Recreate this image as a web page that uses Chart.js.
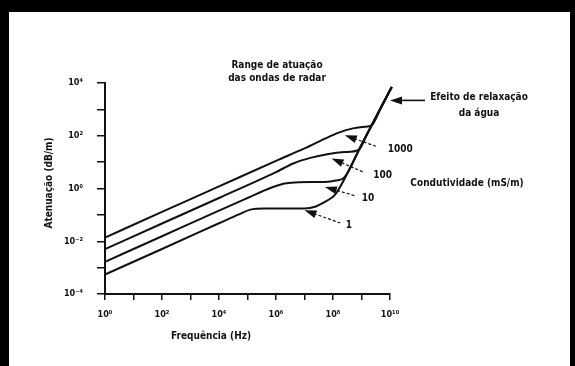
<!DOCTYPE html>
<html>
<head>
<meta charset="utf-8">
<script src="https://cdn.jsdelivr.net/npm/chart.js@4.4.1/dist/chart.umd.min.js"></script>
<style>
  html, body { margin: 0; padding: 0; background: #000; }
  #wrap { position: absolute; left: 9px; top: 12px; width: 561px; height: 354px; background: #fff; }
  canvas { display: block; }
</style>
</head>
<body>
<div id="wrap"><canvas id="chart" width="561" height="354"></canvas></div>
<script>
// Values (Hz, dB/m)
const freq1 = [1, 1e2, 1e4, 5e4, 1.26e5, 4e5, 1e7, 2.5e7, 5e7, 9e7, 1.26e8, 1e9, 1.15e10];
const atten1 = [5.5e-4, 5.1e-3, 0.048, 0.105, 0.158, 0.174, 0.174, 0.209, 0.302, 0.447, 0.631, 45.7, 7080];

const freq10 = [1, 1e2, 1e4, 1e5, 6.3e5, 2e6, 6.3e6, 5e7, 1.26e8, 2.5e8, 1e9, 1.15e10];
const atten10 = [1.66e-3, 0.0155, 0.145, 0.437, 1.05, 1.55, 1.74, 1.78, 2.0, 2.63, 45.7, 7080];

const freq100 = [1, 1e2, 1e4, 1e6, 4e6, 1.6e7, 6.3e7, 2.5e8, 7.9e8, 1.6e9, 1.15e10];
const atten100 = [5.0e-3, 0.047, 0.437, 4.17, 8.9, 14.5, 20, 24, 28.8, 120, 7080];

const freq1000 = [1, 1e2, 1e4, 1e6, 1e7, 5e7, 1.6e8, 5e8, 1.26e9, 2.24e9, 5e9, 1.15e10];
const atten1000 = [0.0138, 0.129, 1.2, 11.2, 33, 76, 132, 190, 219, 245, 1290, 7080];

const xTickValues = [1, 1e1, 1e2, 1e3, 1e4, 1e5, 1e6, 1e7, 1e8, 1e9, 1e10];
const xTickLabels = ['10⁰', '', '10²', '', '10⁴', '', '10⁶', '', '10⁸', '', '10¹⁰'];
const yTickValues = [1e-4, 1e-3, 1e-2, 1e-1, 1, 1e1, 1e2, 1e3, 1e4];
const yTickLabels = ['10⁻⁴', '', '10⁻²', '', '10⁰', '', '10²', '', '10⁴'];

const conductivityLabels = ['1', '10', '100', '1000'];

const FONT = '"DejaVu Sans Condensed", "Liberation Sans Narrow", "DejaVu Sans", sans-serif';
const INK = '#111';

function toPoints(xs, ys) {
    return xs.map((x, i) => ({ x: x, y: ys[i] }));
}

function lineSet(label, xs, ys) {
    return {
        label: label,
        data: toPoints(xs, ys),
        showLine: true,
        borderColor: INK,
        borderWidth: 2,
        pointRadius: 0,
        cubicInterpolationMode: 'monotone',
        clip: false
    };
}

// Arrows pointing at the curves (tip, tail in data units) and their labels
const arrows = [
    { tip: [1e7, 0.15], tail: [1.8e8, 0.049], dashed: true, text: conductivityLabels[0], at: [3.6e8, 0.041] },
    { tip: [5.2e7, 1.15], tail: [5.6e8, 0.54], dashed: true, text: conductivityLabels[1], at: [1.7e9, 0.43] },
    { tip: [8.9e7, 13.8], tail: [1.1e9, 4.3], dashed: true, text: conductivityLabels[2], at: [5.5e9, 3.2] },
    { tip: [2.6e8, 105], tail: [3.2e9, 40], dashed: true, text: conductivityLabels[3], at: [2.3e10, 31] },
    { tip: [1e10, 2190], tail: [1.7e11, 2190], dashed: false }
];

function drawArrow(ctx, x1, y1, x2, y2, dashed) {
    const ang = Math.atan2(y2 - y1, x2 - x1);
    const len = 12, half = 4;
    const bx = x2 - len * Math.cos(ang), by = y2 - len * Math.sin(ang);
    ctx.save();
    ctx.strokeStyle = INK;
    ctx.fillStyle = INK;
    ctx.lineWidth = dashed ? 1.2 : 1.6;
    ctx.setLineDash(dashed ? [3, 2] : []);
    ctx.beginPath();
    ctx.moveTo(x1, y1);
    ctx.lineTo(bx, by);
    ctx.stroke();
    ctx.setLineDash([]);
    ctx.beginPath();
    ctx.moveTo(x2, y2);
    ctx.lineTo(bx - half * Math.sin(ang), by + half * Math.cos(ang));
    ctx.lineTo(bx + half * Math.sin(ang), by - half * Math.cos(ang));
    ctx.closePath();
    ctx.fill();
    ctx.restore();
}

const annotationPlugin = {
    id: 'annotations',
    afterDatasetsDraw(chart) {
        const ctx = chart.ctx;
        const xs = chart.scales.x, ys = chart.scales.y;

        arrows.forEach(function(a) {
            drawArrow(ctx,
                xs.getPixelForValue(a.tail[0]), ys.getPixelForValue(a.tail[1]),
                xs.getPixelForValue(a.tip[0]), ys.getPixelForValue(a.tip[1]),
                a.dashed);
            if (a.text) {
                ctx.save();
                ctx.fillStyle = INK;
                ctx.font = 'bold 10px ' + FONT;
                ctx.textAlign = 'center';
                ctx.textBaseline = 'middle';
                ctx.fillText(a.text, xs.getPixelForValue(a.at[0]), ys.getPixelForValue(a.at[1]));
                ctx.restore();
            }
        });

        // Free text
        ctx.save();
        ctx.fillStyle = INK;
        ctx.font = 'bold 10px ' + FONT;
        ctx.textAlign = 'center';
        ctx.textBaseline = 'middle';
        ctx.fillText('Range de atuação', 268, 53);
        ctx.fillText('das ondas de radar', 268, 66);
        ctx.fillText('Efeito de relaxação', 470, 85);
        ctx.fillText('da água', 470, 101);
        ctx.fillText('Condutividade (mS/m)', 458, 171);
        ctx.fillText('Frequência (Hz)', 202, 324);
        ctx.translate(40, 171);
        ctx.rotate(-Math.PI / 2);
        ctx.fillText('Atenuação (dB/m)', 0, 0);
        ctx.restore();
    }
};

new Chart(document.getElementById('chart'), {
    type: 'scatter',
    data: {
        datasets: [
            lineSet('1', freq1, atten1),
            lineSet('10', freq10, atten10),
            lineSet('100', freq100, atten100),
            lineSet('1000', freq1000, atten1000)
        ]
    },
    options: {
        responsive: false,
        animation: false,
        layout: { padding: { top: 71, right: 180, left: 0, bottom: 0 } },
        plugins: {
            legend: { display: false },
            tooltip: { enabled: false }
        },
        scales: {
            x: {
                type: 'logarithmic',
                min: 1,
                max: 1e10,
                afterBuildTicks: function(scale) {
                    scale.ticks = xTickValues.map(v => ({ value: v }));
                },
                afterFit: function(scale) { scale.height = 72; },
                grid: { drawOnChartArea: false, drawTicks: true, tickLength: 6, color: INK, lineWidth: 1.5 },
                border: { display: true, color: INK, width: 2 },
                ticks: {
                    autoSkip: false,
                    maxRotation: 0,
                    padding: 9,
                    color: INK,
                    font: { family: FONT, size: 9, weight: 'bold' },
                    callback: function(value, index) { return xTickLabels[index]; }
                }
            },
            y: {
                type: 'logarithmic',
                min: 1e-4,
                max: 1e4,
                afterBuildTicks: function(scale) {
                    scale.ticks = yTickValues.map(v => ({ value: v }));
                },
                afterFit: function(scale) { scale.width = 96; },
                grid: { drawOnChartArea: false, drawTicks: true, tickLength: 8, color: INK, lineWidth: 1.5 },
                border: { display: true, color: INK, width: 2 },
                ticks: {
                    autoSkip: false,
                    padding: 14,
                    color: INK,
                    font: { family: FONT, size: 9, weight: 'bold' },
                    callback: function(value, index) { return yTickLabels[index]; }
                }
            }
        }
    },
    plugins: [annotationPlugin]
});
</script>
</body>
</html>
